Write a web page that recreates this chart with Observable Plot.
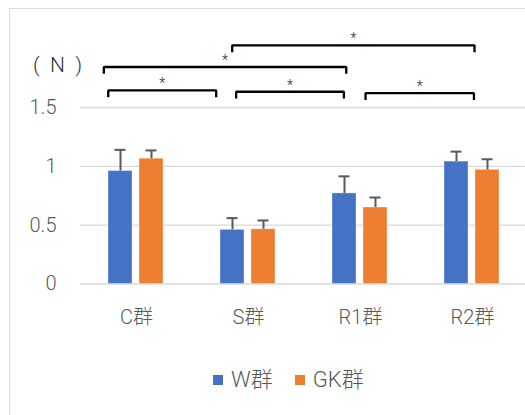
<!DOCTYPE html>
<html>
<head>
<meta charset="utf-8">
<script src="https://cdn.jsdelivr.net/npm/d3@7"></script>
<script src="https://cdn.jsdelivr.net/npm/@observablehq/plot@0.6"></script>
<style>
  html, body { margin: 0; padding: 0; background: #fff; overflow: hidden; }
  #chart { position: relative; width: 525px; height: 415px; overflow: hidden; background: #fff;
           font-family: Roboto, "Noto Sans CJK JP", sans-serif; font-weight: 300; color: #595959; }
  #frame { position: absolute; left: 9px; top: 8px; width: 700px; height: 600px;
           border: 1px solid #d9d9d9; box-sizing: border-box; }
  .layer { position: absolute; left: 0; top: 0; }
  #legend { position: absolute; left: 213px; top: 366px; display: flex;
            align-items: center; font-size: 22px; line-height: 28px; }
  #legend .item { display: flex; align-items: center; margin-right: 22px; }
  #legend .sw { width: 10px; height: 10px; margin-right: 8px; }
</style>
</head>
<body>
<div id="chart"><div id="frame"></div></div>
<script>
// Groups, series and measured means with error (N)
const groups = ["C群", "S群", "R1群", "R2群"];
const series = ["W群", "GK群"];
const wMean = [0.96, 0.46, 0.77, 1.04];
const wErr = [0.18, 0.10, 0.145, 0.085];
const gkMean = [1.065, 0.465, 0.65, 0.97];
const gkErr = [0.07, 0.075, 0.085, 0.09];
const yTicks = [0, 0.5, 1, 1.5];
const seriesColors = ["#4472C4", "#ED7D31"];
const unitLabel = "(\u00a0\u00a0N\u00a0\u00a0)";
// Significant pairwise comparisons
const comparisons = [
  ["C群", "S群"], ["S群", "R1群"], ["R1群", "R2群"], ["C群", "R1群"], ["S群", "R2群"]
];
const sigLabel = "*";

const rows = groups.flatMap((g, i) => [
  {group: g, series: series[0], value: wMean[i], err: wErr[i]},
  {group: g, series: series[1], value: gkMean[i], err: gkErr[i]}
]);

// Shared geometry
const W = 525, H = 340;
const padLeft = 79, band = 112.7, baseY = 283.5, padTop = 107;
const font = 'Roboto, "Noto Sans CJK JP", sans-serif';
const chart = document.getElementById("chart");

const main = Plot.plot({
  width: W, height: H,
  marginLeft: padLeft, marginRight: 0, marginTop: padTop, marginBottom: H - baseY,
  style: {fontFamily: font, fontSize: "20px", fontWeight: 300, color: "#595959",
          background: "transparent", overflow: "visible"},
  fx: {domain: groups, range: [padLeft, padLeft + band * groups.length], padding: 0,
       axis: "bottom", label: null, tickSize: 0, tickPadding: 26},
  x: {domain: series, paddingInner: 0.22, paddingOuter: 0.87, axis: null},
  y: {domain: [0, 1.5], ticks: yTicks, tickFormat: d => String(d), tickSize: 0,
      tickPadding: 24, label: null},
  color: {domain: series, range: seriesColors},
  marks: [
    Plot.ruleY(yTicks, {stroke: "#d9d9d9", strokeWidth: 1.3}),
    Plot.barY(rows, {fx: "group", x: "series", y: "value", fill: "series",
                     stroke: "white", strokeOpacity: 0.35, strokeWidth: 1}),
    Plot.ruleX(rows, {fx: "group", x: "series", y1: "value", y2: d => d.value + d.err,
                      stroke: "#595959", strokeWidth: 2}),
    Plot.tickY(rows, {fx: "group", x: "series", y: d => d.value + d.err,
                      stroke: "#595959", strokeWidth: 2, insetLeft: 6.5, insetRight: 6.5})
  ]
});
main.classList.add("layer");
chart.appendChild(main);

// Significance brackets: tier height and end offsets (in group-band units)
const bracketLayout = [
  {tier: 1.645, l: -0.245, r: -0.287},
  {tier: 1.634, l: -0.110, r: -0.154},
  {tier: 1.622, l: 0.038, r: 0.000},
  {tier: 1.844, l: -0.284, r: -0.133},
  {tier: 2.028, l: -0.145, r: 0.005}
];
const drop = 0.058;
const gi = g => groups.indexOf(g);
const brackets = comparisons.map(([a, b], k) => {
  const L = bracketLayout[k];
  return {id: k, x1: gi(a) + L.l, x2: gi(b) + L.r, tier: L.tier};
});
const bracketPts = brackets.flatMap(b => [
  {id: b.id, x: b.x1, y: b.tier - drop},
  {id: b.id, x: b.x1, y: b.tier},
  {id: b.id, x: b.x2, y: b.tier},
  {id: b.id, x: b.x2, y: b.tier - drop}
]);

const overlay = Plot.plot({
  width: W, height: H,
  marginLeft: padLeft, marginRight: 0, marginTop: padTop, marginBottom: H - baseY,
  style: {fontFamily: font, fontWeight: 300, background: "transparent", overflow: "visible"},
  x: {type: "linear", domain: [-0.5, groups.length - 0.5],
      range: [padLeft, padLeft + band * groups.length], axis: null},
  y: {domain: [0, 1.5], axis: null},
  marks: [
    Plot.line(bracketPts, {x: "x", y: "y", z: "id", stroke: "#000", strokeWidth: 2.3,
                           strokeLinejoin: "miter", strokeLinecap: "butt"}),
    Plot.text(brackets, {x: d => (d.x1 + d.x2) / 2, y: d => d.tier + 0.057, text: () => sigLabel,
                         fontSize: 14, fill: "#222"}),
    Plot.text([unitLabel], {x: -0.695, y: 1.862, text: d => d, fontSize: 21, fill: "#333"})
  ]
});
overlay.classList.add("layer");
chart.appendChild(overlay);

// Legend
const legend = document.createElement("div");
legend.id = "legend";
series.forEach((s, i) => {
  const item = document.createElement("div");
  item.className = "item";
  const sw = document.createElement("span");
  sw.className = "sw";
  sw.style.background = seriesColors[i];
  const t = document.createElement("span");
  t.textContent = s;
  item.append(sw, t);
  legend.appendChild(item);
});
chart.appendChild(legend);
</script>
</body>
</html>
